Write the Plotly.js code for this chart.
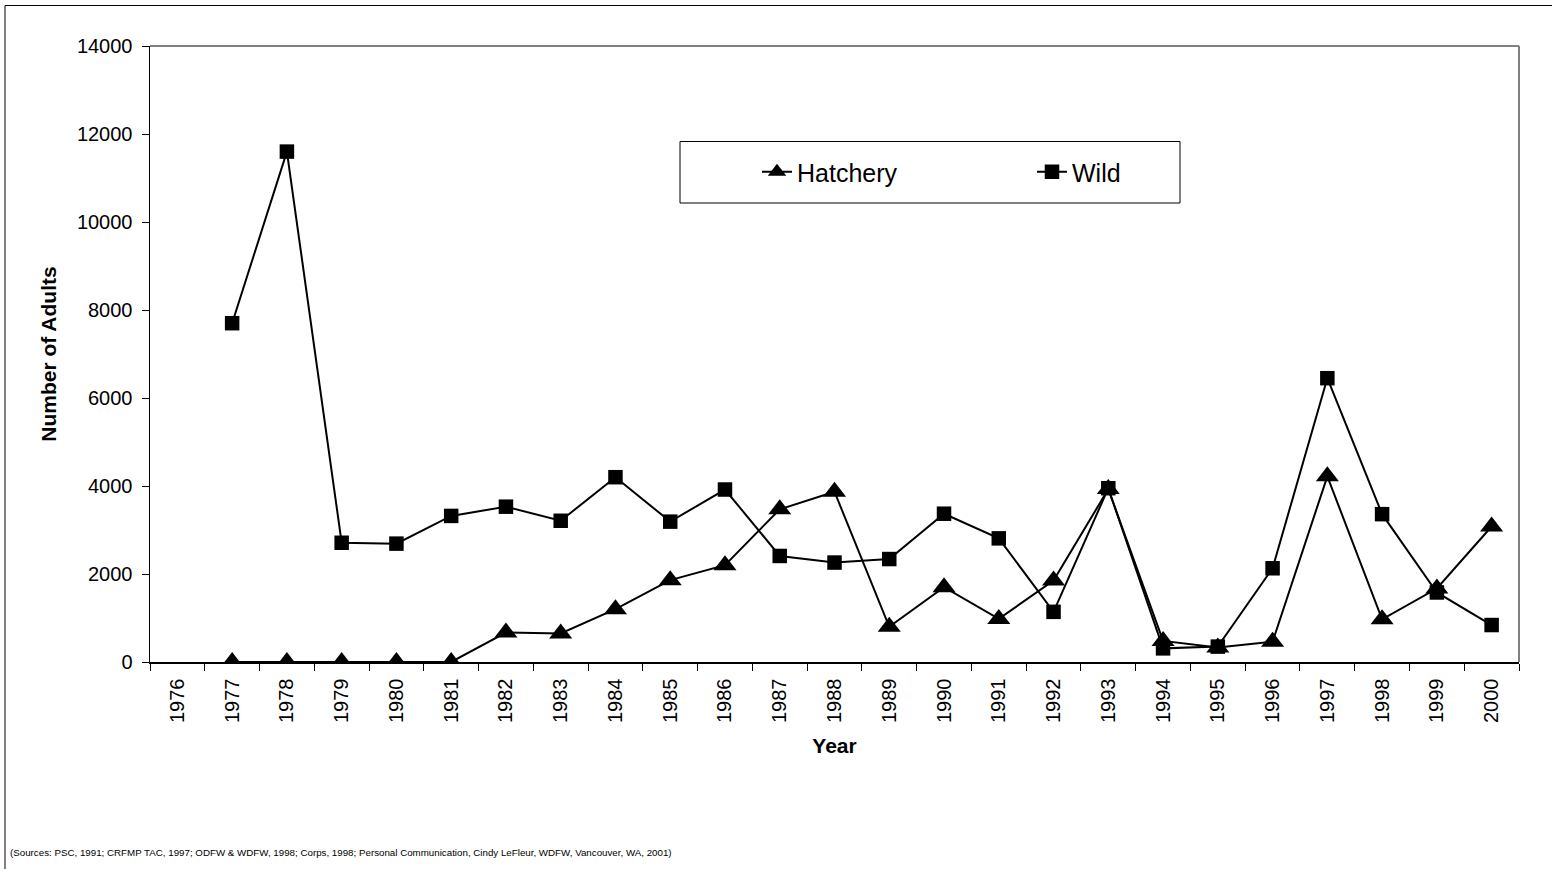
<!DOCTYPE html>
<html>
<head>
<meta charset="utf-8">
<script src="https://cdn.plot.ly/plotly-3.0.1.min.js"></script>
<style>
html,body{margin:0;padding:0;background:#fff;}
#chart{width:1552px;height:869px;}
</style>
</head>
<body>
<div id="chart"></div>
<script>
var years = ["1976","1977","1978","1979","1980","1981","1982","1983","1984","1985","1986","1987","1988","1989","1990","1991","1992","1993","1994","1995","1996","1997","1998","1999","2000"];
var hatchery = [null,0,0,0,0,0,670,650,1200,1860,2200,3470,3870,800,1700,980,1850,3930,480,330,460,4220,970,1670,3080];
var wild = [null,7700,11600,2710,2690,3320,3530,3210,4200,3190,3920,2410,2260,2340,3370,2810,1140,3950,310,350,2130,6450,3360,1580,840];
var yTicks = [0,2000,4000,6000,8000,10000,12000,14000];
var sourceNote = "(Sources: PSC, 1991; CRFMP TAC, 1997; ODFW &amp; WDFW, 1998; Corps, 1998; Personal Communication, Cindy LeFleur, WDFW, Vancouver, WA, 2001)";

var W = 1552, H = 869;
var L = 150, R = 1519, T = 46, B = 662;
function px(x){ return (x - L) / (R - L); }
function py(y){ return (B - y) / (B - T); }

var FONT = "Liberation Sans, Arial, sans-serif";

var traces = [
  {
    x: years, y: hatchery, name: "Hatchery", type: "scatter", mode: "lines+markers",
    line: {color: "#000", width: 2},
    marker: {symbol: "triangle-up", size: 20, color: "#000", line: {width: 0}},
    connectgaps: false
  },
  {
    x: years, y: wild, name: "Wild", type: "scatter", mode: "lines+markers",
    line: {color: "#000", width: 2},
    marker: {symbol: "square", size: 14.5, color: "#000", line: {width: 0}},
    connectgaps: false
  }
];

var layout = {
  width: W, height: H,
  margin: {l: L, r: W - R, t: T, b: H - B, pad: 0},
  paper_bgcolor: "#fff", plot_bgcolor: "#fff",
  font: {family: FONT, color: "#000", size: 20},
  showlegend: true,
  legend: {
    orientation: "h", x: px(757), y: py(172), xanchor: "left", yanchor: "middle",
    font: {family: FONT, size: 25, color: "#000"},
    bgcolor: "rgba(0,0,0,0)", borderwidth: 0,
    entrywidth: 230, entrywidthmode: "pixels"
  },
  xaxis: {
    type: "category", range: [-0.5, 24.5], autorange: false,
    tickson: "boundaries", ticks: "outside", ticklen: 7, tickwidth: 1, tickcolor: "#000",
    tickangle: -90, tickfont: {family: FONT, size: 20, color: "#000"}, ticklabelstandoff: 7,
    showline: true, linecolor: "#000", linewidth: 1.5,
    showgrid: false, zeroline: false, automargin: false,
    title: {text: "<b>Year</b>", font: {family: FONT, size: 21, color: "#000"}, standoff: 16}
  },
  yaxis: {
    range: [0, 14000], autorange: false, tickvals: yTicks, ticktext: yTicks.map(String),
    ticks: "outside", ticklen: 7, tickwidth: 1, tickcolor: "#000",
    tickfont: {family: FONT, size: 20, color: "#000"}, ticklabelstandoff: 5,
    showline: true, linecolor: "#000", linewidth: 1.5,
    showgrid: false, zeroline: false, automargin: false,
    title: {text: "<b>Number of Adults</b>", font: {family: FONT, size: 21, color: "#000"}, standoff: 14}
  },
  shapes: [
    {type: "rect", xref: "paper", yref: "paper", x0: px(5), x1: px(1600), y0: py(920), y1: py(5.5),
     line: {color: "#000", width: 1}, fillcolor: "rgba(0,0,0,0)", layer: "below"},
    {type: "line", xref: "paper", yref: "paper", x0: 0, x1: 1, y0: 1, y1: 1, line: {color: "#808080", width: 2}},
    {type: "line", xref: "paper", yref: "paper", x0: 1, x1: 1, y0: 0, y1: 1, line: {color: "#808080", width: 2}},
    {type: "rect", xref: "paper", yref: "paper", x0: px(680), x1: px(1180), y0: py(203), y1: py(141.5),
     line: {color: "#000", width: 1}, fillcolor: "#fff", layer: "above"}
  ],
  annotations: [
    {xref: "paper", yref: "paper", x: px(8), y: py(853), xanchor: "left", yanchor: "middle",
     text: sourceNote, showarrow: false, font: {family: FONT, size: 9.75, color: "#000"}}
  ]
};

Plotly.newPlot("chart", traces, layout, {displayModeBar: false, staticPlot: true});
</script>
</body>
</html>
